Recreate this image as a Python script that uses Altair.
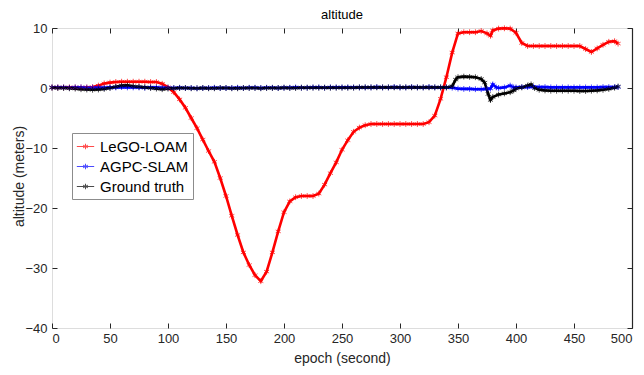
import altair as alt
import pandas as pd

# ---------------- data ----------------
lego_t = [0, 5, 10, 15, 20, 25, 30, 35, 40, 45, 50, 55, 60, 65, 70, 75, 80, 85, 90, 95,
          100, 105, 110, 115, 120, 125, 130, 135, 140, 145, 150, 155, 160, 165, 170, 175,
          180, 185, 190, 195, 200, 205, 210, 215, 220, 225, 230, 235, 240, 245, 250, 255,
          260, 265, 270, 275, 280, 285, 290, 295, 300, 305, 310, 315, 320, 325, 330, 335,
          340, 345, 350, 355, 360, 365, 370, 375, 378, 380, 385, 390, 395, 400, 405, 410,
          415, 420, 425, 430, 435, 440, 445, 450, 455, 460, 465, 470, 475, 480, 485, 488]
lego_v = [0.1, 0.1, 0.1, 0.1, 0.1, 0.1, 0.1, 0.15, 0.4, 0.75, 0.9, 1.0, 1.05, 1.05, 1.05, 1.05, 1.05, 1.0, 1.0, 0.7,
          0.1, -0.7, -1.9, -3.3, -5.0, -6.7, -8.6, -10.5, -12.3, -15.0, -18.0, -21.3, -24.5, -27.4, -29.5, -31.2,
          -32.2, -30.6, -27.4, -23.9, -20.7, -18.9, -18.2, -18.0, -18.0, -18.0, -17.6, -16.1, -14.2, -12.4, -10.3, -8.7,
          -7.3, -6.6, -6.2, -6.0, -6.0, -6.0, -6.0, -6.0, -6.0, -6.0, -6.0, -6.0, -6.0, -5.7, -4.6, -1.8,
          1.8, 5.9, 9.1, 9.3, 9.3, 9.3, 9.5, 9.1, 8.7, 9.6, 9.9, 9.95, 9.9, 9.2, 7.5, 7.0,
          7.0, 7.0, 7.0, 7.0, 7.0, 7.0, 7.0, 7.0, 7.0, 6.5, 6.0, 6.6, 7.2, 7.7, 7.8, 7.4]

agpc_t = [0, 5, 10, 15, 20, 25, 30, 35, 40, 45, 50, 55, 60, 65, 70, 75, 80, 85, 90, 95,
          100, 105, 110, 115, 120, 125, 130, 135, 140, 145, 150, 155, 160, 165, 170, 175,
          180, 185, 190, 195, 200, 205, 210, 215, 220, 225, 230, 235, 240, 245, 250, 255,
          260, 265, 270, 275, 280, 285, 290, 295, 300, 305, 310, 315, 320, 325, 330, 335,
          340, 345, 350, 355, 360, 365, 370, 375, 378, 380, 383, 385, 390, 395, 398, 400,
          405, 410, 415, 420, 425, 430, 435, 440, 445, 450, 455, 460, 465, 470, 475, 480, 485, 488]
agpc_v = [0.1, 0.1, 0.1, 0.05, 0.1, 0.1, 0.05, 0.05, 0.1, 0.05, 0.1, 0.1, 0.15, 0.1, 0.1, 0.1, 0.05, 0.1, 0.1, 0.05,
          0.05, 0.0, 0.05, 0.0, 0.0, -0.05, 0.0, 0.0, 0.05, 0.0, 0.0, 0.0, 0.05, 0.0, 0.05, 0.05,
          0.0, 0.05, 0.05, 0.0, 0.05, 0.05, 0.1, 0.05, 0.05, 0.1, 0.1, 0.05, 0.1, 0.1, 0.1, 0.1,
          0.1, 0.1, 0.1, 0.1, 0.15, 0.1, 0.1, 0.15, 0.1, 0.1, 0.15, 0.1, 0.1, 0.15, 0.1, 0.1,
          0.1, 0.05, -0.1, -0.15, -0.15, -0.2, -0.2, -0.15, -0.1, 0.6, 0.1, 0.0, 0.1, 0.4, 0.1, 0.1,
          0.15, 0.15, 0.2, 0.15, 0.15, 0.1, 0.1, 0.1, 0.1, 0.1, 0.1, 0.1, 0.1, 0.1, 0.15, 0.15, 0.15, 0.15]

truth_t = [0, 5, 10, 15, 20, 25, 30, 35, 40, 45, 50, 55, 60, 65, 70, 75, 80, 85, 90, 95,
           100, 105, 110, 115, 120, 125, 130, 135, 140, 145, 150, 155, 160, 165, 170, 175,
           180, 185, 190, 195, 200, 205, 210, 215, 220, 225, 230, 235, 240, 245, 250, 255,
           260, 265, 270, 275, 280, 285, 290, 295, 300, 305, 310, 315, 320, 325, 330, 335,
           340, 345, 348, 350, 355, 360, 365, 370, 373, 376, 378, 380, 385, 390, 395, 398,
           400, 405, 410, 413, 416, 420, 425, 430, 435, 440, 445, 450, 455, 460, 465, 470,
           475, 480, 485, 488]
truth_v = [0.05, 0.0, 0.0, -0.05, -0.1, -0.2, -0.25, -0.3, -0.25, -0.15, 0.0, 0.2, 0.4, 0.45, 0.3, 0.2, 0.1, 0.0, -0.1, -0.2,
           -0.1, -0.05, 0.0, 0.0, -0.05, -0.05, 0.0, -0.05, -0.05, 0.0, 0.0, -0.05, -0.05, 0.0, 0.0, 0.0,
           -0.05, 0.0, 0.0, 0.0, 0.05, 0.0, 0.0, 0.05, 0.05, 0.05, 0.05, 0.05, 0.05, 0.05, 0.05, 0.05,
           0.05, 0.1, 0.1, 0.1, 0.1, 0.1, 0.1, 0.1, 0.1, 0.1, 0.1, 0.1, 0.1, 0.1, 0.1, 0.1,
           0.1, 0.3, 1.4, 1.8, 1.9, 1.85, 1.8, 1.5, 0.9, -1.0, -2.0, -1.5, -1.1, -0.9, -0.7, -0.4,
           -0.1, 0.1, 0.4, 0.6, 0.0, -0.3, -0.4, -0.45, -0.45, -0.45, -0.45, -0.45, -0.5, -0.5, -0.45, -0.4,
           -0.3, -0.15, 0.05, 0.25]

series_names = ["LeGO-LOAM", "AGPC-SLAM", "Ground truth"]
series_colors = ["#ff0000", "#0000ff", "#000000"]

rows = []
for name, ts, vs in [(series_names[0], lego_t, lego_v),
                     (series_names[1], agpc_t, agpc_v),
                     (series_names[2], truth_t, truth_v)]:
    for i, (t, v) in enumerate(zip(ts, vs)):
        rows.append({"epoch": t, "value": v, "series": name, "idx": i})
df = pd.DataFrame(rows)

FONT = "Liberation Sans"
DARK = "#262626"
STAR = "M0,-1L0,1M-0.87,-0.5L0.87,0.5M-0.87,0.5L0.87,-0.5"
LEG_SYM = "M-1,0L1,0M0,-0.32L0,0.32M-0.28,-0.16L0.28,0.16M-0.28,0.16L0.28,-0.16"

xs = alt.Scale(domain=[0, 500], nice=False, zero=False)
ys = alt.Scale(domain=[-40, 10], nice=False, zero=False)
cs = alt.Scale(domain=series_names, range=series_colors)
xvals = [0, 50, 100, 150, 200, 250, 300, 350, 400, 450, 500]
yvals = [-40, -30, -20, -10, 0, 10]

legend = alt.Legend(title=None, orient="none", legendX=20, legendY=105,
                    symbolType=LEG_SYM, symbolSize=300, symbolStrokeWidth=1,
                    labelFont=FONT, labelFontSize=15, labelColor="#000000",
                    labelOffset=5, rowPadding=2, padding=4,
                    fillColor="#ffffff", strokeColor="#8c8c8c")

color_enc = alt.Color("series:N", scale=cs, legend=legend, sort=series_names)

base = alt.Chart(df)

lines = base.mark_line(strokeWidth=2.6).encode(
    x=alt.X("epoch:Q", scale=xs,
            axis=alt.Axis(orient="bottom", values=xvals, ticks=False, domain=False, grid=False,
                          labelPadding=4, labelFont=FONT, labelFontSize=13, labelColor=DARK,
                          title="epoch (second)", titleFont=FONT, titleFontSize=14,
                          titleFontWeight="normal", titleColor=DARK,
                          titleX=290, titleY=30, titleBaseline="middle")),
    y=alt.Y("value:Q", scale=ys,
            axis=alt.Axis(orient="left", values=yvals, ticks=False, domain=False, grid=False,
                          labelPadding=5, labelFont=FONT, labelFontSize=13, labelColor=DARK,
                          title="altitude (meters)", titleFont=FONT, titleFontSize=14,
                          titleFontWeight="normal", titleColor=DARK,
                          titleX=-33, titleY=148, titleBaseline="middle", titleAngle=270)),
    color=color_enc,
    order=alt.Order("idx:Q"),
)

points = base.mark_point(shape=STAR, size=34, filled=False, strokeWidth=1).encode(
    x=alt.X("epoch:Q", scale=xs,
            axis=alt.Axis(orient="bottom", values=xvals, offset=-5, tickSize=5, tickColor=DARK,
                          labels=False, domain=False, grid=False, title=None)),
    y=alt.Y("value:Q", scale=ys,
            axis=alt.Axis(orient="left", values=yvals, offset=-5, tickSize=5, tickColor=DARK,
                          labels=False, domain=False, grid=False, title=None)),
    color=color_enc,
)

top_right = base.mark_line(opacity=0).encode(
    x=alt.X("epoch:Q", scale=xs,
            axis=alt.Axis(orient="top", values=xvals, offset=-5, tickSize=5, tickColor=DARK,
                          labels=False, domain=False, grid=False, title=None)),
    y=alt.Y("value:Q", scale=ys,
            axis=alt.Axis(orient="right", values=yvals, offset=-5, tickSize=5, tickColor=DARK,
                          labels=False, domain=False, grid=False, title=None)),
)

right_line = base.mark_line(opacity=0).encode(
    x=alt.X("epoch:Q", scale=xs, axis=None),
    y=alt.Y("value:Q", scale=ys,
            axis=alt.Axis(orient="right", values=yvals, ticks=False, labels=False,
                          domain=True, domainColor=DARK, domainWidth=1.2, grid=False, title=None)),
)

chart = alt.layer(lines, points, top_right, right_line).resolve_axis(
    x="independent", y="independent"
).properties(
    width=580, height=300,
    title=alt.TitleParams("altitude", font=FONT, fontSize=13, fontWeight="normal",
                          color="#000000", frame="group", offset=0),
    autosize=alt.AutoSizeParams(type="none"),
    padding={"left": 44, "top": 20, "right": 4, "bottom": 40},
).configure_view(stroke="#bdbdbd", strokeWidth=1).configure(background="#ffffff")

chart.save("out.html", embed_options={"renderer": "svg", "actions": False})
